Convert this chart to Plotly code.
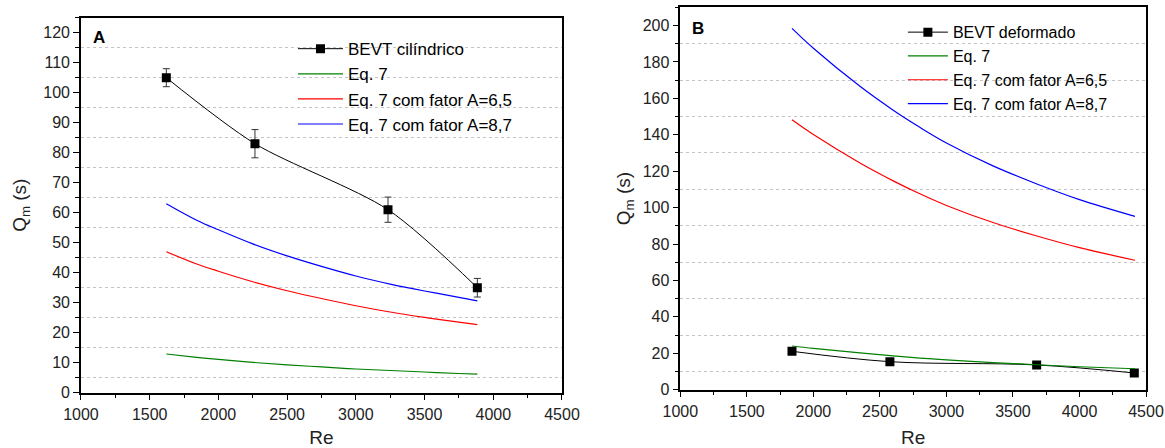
import plotly.graph_objects as go

# Panel A - BEVT cilindrico
re_a_exp = [1621, 2266, 3234, 3884]
q_a_exp = [105, 83, 61, 35]
err_a_exp = [3.0, 4.7, 4.2, 3.1]

re_a_model = [1621, 1842, 2000, 2250, 2500, 2750, 3000, 3250, 3500, 3750, 3884]
q_a_eq7 = [12.9, 11.8, 11.1, 10.1, 9.3, 8.6, 7.9, 7.4, 6.9, 6.4, 6.2]
q_a_eq7_65 = [47.0, 42.9, 40.5, 37.0, 34.0, 31.4, 29.0, 26.9, 25.1, 23.5, 22.7]
q_a_eq7_87 = [63.0, 57.5, 54.3, 49.6, 45.6, 42.1, 38.9, 36.2, 33.9, 31.8, 30.6]

# Panel B - BEVT deformado
re_b_exp = [1839, 2575, 3678, 4412]
q_b_exp = [21.1, 15.4, 13.6, 9.2]

re_b_model = [1839, 2000, 2350, 2600, 2800, 3000, 3350, 3680, 4000, 4417]
q_b_eq7 = [24.0, 22.7, 20.2, 18.6, 17.4, 16.4, 14.9, 13.7, 12.6, 11.5]
q_b_eq7_65 = [148.2, 140.1, 124.5, 114.7, 107.6, 101.2, 91.8, 84.4, 78.0, 71.1]
q_b_eq7_87 = [198.4, 187.5, 166.6, 153.5, 144.1, 135.5, 122.9, 113.0, 104.4, 95.2]

FONT = "Liberation Sans, Arial, sans-serif"
GREEN, RED, BLUE = "#008000", "#ff0000", "#0000ff"

fig = go.Figure()

# --- panel A traces
fig.add_trace(go.Scatter(
    x=re_a_exp, y=q_a_exp, mode="lines+markers", name="BEVT cilíndrico",
    line=dict(color="black", width=1, shape="spline", smoothing=0.8),
    marker=dict(symbol="square", size=9, color="black"),
    error_y=dict(type="data", array=err_a_exp, color="#333333", thickness=1, width=3.5),
    xaxis="x", yaxis="y", legend="legend", legendgroup="a1"))
for name, vals, col, g in [("Eq. 7", q_a_eq7, GREEN, "a2"),
                           ("Eq. 7 com fator A=6,5", q_a_eq7_65, RED, "a3"),
                           ("Eq. 7 com fator A=8,7", q_a_eq7_87, BLUE, "a4")]:
    fig.add_trace(go.Scatter(
        x=re_a_model, y=vals, mode="lines", name=name,
        line=dict(color=col, width=1.2, shape="spline"),
        xaxis="x", yaxis="y", legend="legend", legendgroup=g))

# --- panel B traces
fig.add_trace(go.Scatter(
    x=re_b_exp, y=q_b_exp, mode="lines+markers", name="BEVT deformado",
    line=dict(color="black", width=1, shape="spline"),
    marker=dict(symbol="square", size=9, color="black"),
    xaxis="x2", yaxis="y2", legend="legend2", legendgroup="b1"))
for name, vals, col, g in [("Eq. 7", q_b_eq7, GREEN, "b2"),
                           ("Eq. 7 com fator A=6,5", q_b_eq7_65, RED, "b3"),
                           ("Eq. 7 com fator A=8,7", q_b_eq7_87, BLUE, "b4")]:
    fig.add_trace(go.Scatter(
        x=re_b_model, y=vals, mode="lines", name=name,
        line=dict(color=col, width=1.2, shape="spline"),
        xaxis="x2", yaxis="y2", legend="legend2", legendgroup=g))


def base_axis(rng, dtick, mdtick, domain, anchor, title=None, standoff=10, grid=False):
    ax = dict(
        range=rng, domain=domain, anchor=anchor, dtick=dtick, tick0=0,
        automargin=False,
        showline=True, linecolor="black", linewidth=1.5, mirror=True,
        ticks="outside", ticklen=6, tickwidth=1, tickcolor="black",
        showgrid=False, zeroline=False,
        tickfont=dict(family=FONT, size=16, color="#222"),
        minor=dict(dtick=mdtick, ticks="outside", ticklen=4, tickcolor="black",
                   showgrid=grid, gridcolor="#c4c4c4", griddash="dot", gridwidth=1),
    )
    if title:
        ax["title"] = dict(text=title, font=dict(family=FONT, size=19, color="#222"),
                           standoff=standoff)
    return ax


def mirror_axis(rng, dtick, mdtick, overlay, side, anchor):
    return dict(
        range=rng, overlaying=overlay, side=side, anchor=anchor, dtick=dtick, tick0=0,
        automargin=False,
        showline=False, showticklabels=False, showgrid=False, zeroline=False,
        ticks="inside", ticklen=6, tickwidth=1, tickcolor="black",
        minor=dict(dtick=mdtick, ticks="inside", ticklen=4, tickcolor="black", showgrid=False),
    )


dom_xa, dom_ya = [0.0695, 0.4824], [0.1234, 0.9605]
dom_xb, dom_yb = [0.584, 0.9837], [0.1301, 0.9837]

legend_style = dict(bgcolor="rgba(0,0,0,0)", borderwidth=0, traceorder="grouped",
                    tracegroupgap=0, xanchor="left", yanchor="top")

# white patches behind the legends: hide the dotted grid, but not the curves
legend_patches = [
    dict(type="rect", xref="paper", yref="paper", layer="between",
         x0=0.242, x1=dom_xa[1], y0=0.71, y1=dom_ya[1],
         fillcolor="white", line=dict(width=0)),
    dict(type="rect", xref="paper", yref="paper", layer="between",
         x0=0.7665, x1=dom_xb[1], y0=0.755, y1=dom_yb[1],
         fillcolor="white", line=dict(width=0)),
]

fig.update_layout(
    width=1165, height=448,
    margin=dict(l=0, r=0, t=0, b=0, autoexpand=False),
    paper_bgcolor="white", plot_bgcolor="white",
    xaxis=base_axis([1000, 4500], 500, 250, dom_xa, "y", "Re", standoff=13),
    yaxis=base_axis([0, 125], 10, 5, dom_ya, "x", "Q<sub>m</sub> (s)", standoff=12, grid=True),
    xaxis2=base_axis([1000, 4500], 500, 250, dom_xb, "y2", "Re", standoff=12),
    yaxis2=base_axis([0, 210], 20, 10, dom_yb, "x2", "Q<sub>m</sub> (s)", standoff=7, grid=True),
    xaxis3=mirror_axis([1000, 4500], 500, 250, "x", "top", "y"),
    yaxis3=mirror_axis([0, 125], 10, 5, "y", "right", "x"),
    xaxis4=mirror_axis([1000, 4500], 500, 250, "x2", "top", "y2"),
    yaxis4=mirror_axis([0, 210], 20, 10, "y2", "right", "x2"),
    legend=dict(x=0.2515, y=0.9305, itemwidth=45,
                font=dict(family=FONT, size=17, color="black"), **legend_style),
    legend2=dict(x=0.775, y=0.966, itemwidth=40,
                 font=dict(family=FONT, size=16, color="black"), **legend_style),
    shapes=legend_patches,
    annotations=[
        dict(text="<b>A</b>", x=0.078, y=0.942, xref="paper", yref="paper",
             xanchor="left", yanchor="top", showarrow=False,
             font=dict(family=FONT, size=17, color="black")),
        dict(text="<b>B</b>", x=0.592, y=0.962, xref="paper", yref="paper",
             xanchor="left", yanchor="top", showarrow=False,
             font=dict(family=FONT, size=17, color="black")),
    ],
    showlegend=True,
)

# drop the browser's default body margin so the figure sits at the page corner
fig.write_html("out.html", config={"displayModeBar": False},
               post_script="document.body.style.margin='0px';")
